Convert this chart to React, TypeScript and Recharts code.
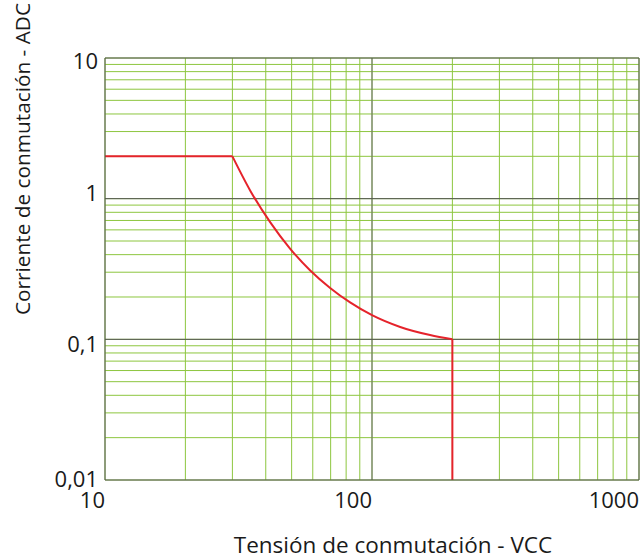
import React from 'react';
import {
  LineChart,
  Line,
  XAxis,
  YAxis,
  CartesianGrid,
  ReferenceLine,
  Label
} from 'recharts';

// grid positions (log decades)
const xTicks = [10, 20, 30, 40, 50, 60, 70, 80, 90, 100, 200, 300, 400, 500, 600, 700, 800, 900, 1000];
const yTicks = [
  0.01, 0.02, 0.03, 0.04, 0.05, 0.06, 0.07, 0.08, 0.09,
  0.1, 0.2, 0.3, 0.4, 0.5, 0.6, 0.7, 0.8, 0.9,
  1, 2, 3, 4, 5, 6, 7, 8, 9, 10
];
const xLabelValues = [10, 100, 1000];
const yLabelValues = [10, 1, 0.1, 0.01];
const yLabelText = ['10', '1', '0,1', '0,01'];

// breaking capacity curve (V DC, A DC)
const voltage = [10, 30, 35, 41.6, 49.4, 58.7, 69.7, 82.8, 100, 127.5, 165, 200, 200];
const current = [2, 2, 1.14, 0.678, 0.44, 0.309, 0.232, 0.183, 0.1485, 0.1224, 0.1072, 0.1, 0.01];

const points = voltage.map((v, i) => ({ v, a: current[i] }));
// flat part, curved part, vertical drop
const flatPart = points.slice(0, 2);
const curvedPart = points.slice(1, 12);
const dropPart = points.slice(11, 13);

const FONT = '"Open Sans", sans-serif';
const GREEN = '#8dc63f';
const DARK = '#555555';
const RED = '#e5232b';

// baseline offsets so each label sits where the original has it
const yLabelShift: Record<string, number> = { '10': 11, '1': 2, '0,1': 12.5, '0,01': 7 };

const XTick = ({ x, y, payload }: any) => {
  if (!xLabelValues.includes(payload.value)) return null;
  return (
    <text x={x} y={y + 28} textAnchor="end" fontFamily={FONT} fontSize={22} fill="#1a1a1a">
      {String(payload.value)}
    </text>
  );
};

const YTick = ({ x, y, payload }: any) => {
  const idx = yLabelValues.indexOf(payload.value);
  if (idx < 0) return null;
  const txt = yLabelText[idx];
  return (
    <text x={x - 7} y={y + yLabelShift[txt]} textAnchor="end" fontFamily={FONT} fontSize={22} fill="#1a1a1a">
      {txt}
    </text>
  );
};

export default function App() {
  return (
    <div style={{ position: 'absolute', left: 0, top: 0, background: '#fff' }}>
      <LineChart width={643} height={560} margin={{ top: 58, right: 4, bottom: 50, left: 0 }}>
        <CartesianGrid stroke={GREEN} strokeWidth={1} />
        <XAxis
          dataKey="v"
          type="number"
          scale="log"
          domain={[10, 1000]}
          ticks={xTicks}
          allowDataOverflow
          allowDuplicatedCategory={false}
          interval={0}
          tickLine={false}
          tickSize={0}
          tickMargin={0}
          height={30}
          axisLine={{ stroke: DARK }}
          tick={<XTick />}
        >
          <Label
            content={() => (
              <text x={393} y={553} textAnchor="middle" fontFamily={FONT} fontSize={22.5} fill="#1a1a1a">
                Tensión de conmutación - VCC
              </text>
            )}
          />
        </XAxis>
        <YAxis
          dataKey="a"
          type="number"
          scale="log"
          domain={[0.01, 10]}
          ticks={yTicks}
          allowDataOverflow
          interval={0}
          tickLine={false}
          tickSize={0}
          tickMargin={0}
          width={105}
          axisLine={{ stroke: DARK }}
          tick={<YTick />}
        >
          <Label
            content={() => (
              <text
                x={22}
                y={159}
                transform="rotate(-90 22 159)"
                textAnchor="middle"
                dominantBaseline="central"
                fontFamily={FONT}
                fontSize={20.8}
                fill="#1a1a1a"
              >
                Corriente de conmutación - ADC
              </text>
            )}
          />
        </YAxis>
        <ReferenceLine x={100} stroke="#6a6a6a" />
        <ReferenceLine x={1000} stroke={DARK} />
        <ReferenceLine y={1} stroke={DARK} />
        <ReferenceLine y={0.1} stroke={DARK} />
        <ReferenceLine y={10} stroke={DARK} />
        <Line data={flatPart} dataKey="a" type="linear" stroke={RED} strokeWidth={2} dot={false} isAnimationActive={false} />
        <Line data={curvedPart} dataKey="a" type="monotone" stroke={RED} strokeWidth={2} dot={false} isAnimationActive={false} />
        <Line data={dropPart} dataKey="a" type="linear" stroke={RED} strokeWidth={2} dot={false} isAnimationActive={false} />
      </LineChart>
    </div>
  );
}
